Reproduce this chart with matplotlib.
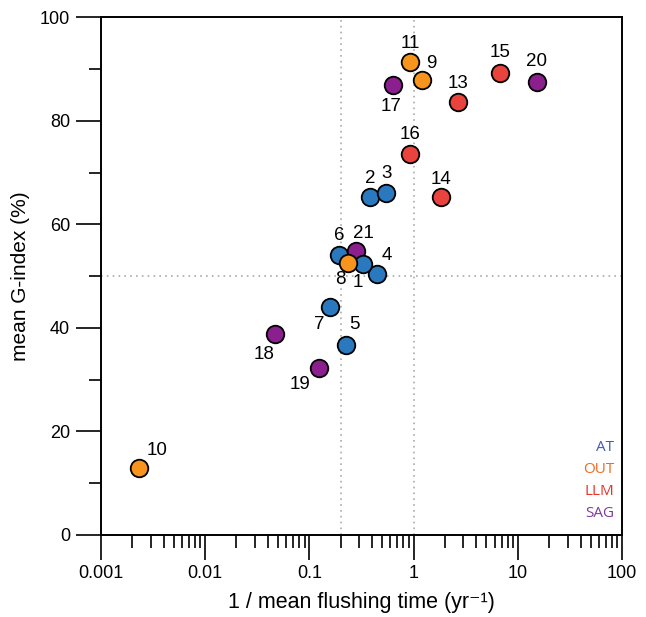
import matplotlib
matplotlib.use("Agg")
import matplotlib.pyplot as plt
from matplotlib.ticker import FixedLocator, FixedFormatter, NullFormatter

plt.rcParams["font.family"] = ["Liberation Sans", "DejaVu Sans"]

# =========================================================
# DATA
# =========================================================

# drawing order, so the cluster near 0.2-0.5 overlaps like the original
sites = ["10", "18", "19", "7", "5", "6", "21", "4", "1", "8",
         "2", "3", "14", "16", "17", "11", "9", "13", "15", "20"]
groups = ["OUT", "SAG", "SAG", "AT", "AT", "AT", "SAG", "AT", "AT", "OUT",
          "AT", "AT", "LLM", "LLM", "SAG", "OUT", "OUT", "LLM", "LLM", "SAG"]
flush_rate = [0.00232, 0.0465, 0.124, 0.157, 0.224, 0.192, 0.278, 0.449, 0.325, 0.236,
              0.382, 0.547, 1.85, 0.93, 0.638, 0.925, 1.21, 2.65, 6.79, 15.2]
g_index = [12.9, 38.9, 32.2, 44.0, 36.7, 54.0, 54.9, 50.5, 52.3, 52.6,
           65.2, 66.0, 65.2, 73.5, 87.0, 91.4, 87.8, 83.7, 89.3, 87.5]

# label offsets in pixels (dx, dy)
label_dx = [18, -11, -19, -10, 9, 0, 8, 10, -5, -8,
            0, 0, 0, 0, -2, 0, 9, 0, 0, 0]
label_dy = [18, -21, -16, -17, 20, 20, 17, 18, -18, -17,
            19, 20, 18, 20, -22, 18, 17, 18, 20, 20]

group_names = ["AT", "OUT", "LLM", "SAG"]
marker_colors = {"AT": "#2a78bd", "OUT": "#f7941d", "LLM": "#e8433c", "SAG": "#8a1f8d"}
legend_colors = {"AT": "#3f5fad", "OUT": "#f26a22", "LLM": "#e8332a", "SAG": "#7d3b9b"}

x_ticks = [0.001, 0.01, 0.1, 1, 10, 100]
x_tick_labels = ["0.001", "0.01", "0.1", "1", "10", "100"]
y_ticks = [0, 20, 40, 60, 80, 100]

# =========================================================
# PLOT
# =========================================================

fig = plt.figure(figsize=(6.46, 6.17), dpi=100)
ax = fig.add_axes([0.156, 0.133, 0.807, 0.839])

ax.set_xscale("log")
ax.set_xlim(0.001, 100)
ax.set_ylim(0, 100)

# reference lines
ax.axvline(0.2, color="#aaaaaa", lw=1.2, ls=(0, (1, 2.5)), zorder=1)
ax.axvline(1, color="#aaaaaa", lw=1.2, ls=(0, (1, 2.5)), zorder=1)
ax.axhline(50, color="#aaaaaa", lw=1.2, ls=(0, (1, 2.5)), zorder=1)

for i in range(len(sites)):
    ax.scatter(flush_rate[i], g_index[i], s=160,
               color=marker_colors[groups[i]], edgecolor="black",
               linewidth=1.3, zorder=3 + i * 0.01, clip_on=False)
    ax.annotate(sites[i], (flush_rate[i], g_index[i]),
                xytext=(label_dx[i], label_dy[i]), textcoords="offset pixels",
                ha="center", va="center", fontsize=13.5, zorder=5)

# colored group "legend"
for k, name in enumerate(group_names):
    ax.text(0.985, 0.168 - k * 0.042, name, transform=ax.transAxes,
            ha="right", va="center", fontsize=11,
            family=["Open Sans", "DejaVu Sans"], color=legend_colors[name])

# axes styling
ax.xaxis.set_major_locator(FixedLocator(x_ticks))
ax.xaxis.set_major_formatter(FixedFormatter(x_tick_labels))
minor = [m * 10.0 ** e for e in range(-3, 2) for m in range(2, 10)]
ax.xaxis.set_minor_locator(FixedLocator(minor))
ax.xaxis.set_minor_formatter(NullFormatter())

ax.yaxis.set_major_locator(FixedLocator(y_ticks))
ax.yaxis.set_minor_locator(FixedLocator([10, 30, 50, 70, 90]))

ax.tick_params(which="major", direction="out", length=18, width=1.2,
               labelsize=13, pad=4)
ax.tick_params(which="minor", direction="out", length=9, width=1.2)
ax.tick_params(top=False, right=False, which="both")

for sp in ax.spines.values():
    sp.set_linewidth(1.4)

ax.set_xlabel("1 / mean flushing time (yr\u207b\u00b9)", fontsize=15.5, labelpad=7)
ax.set_ylabel("mean G-index (%)", fontsize=15, labelpad=7)

fig.savefig("out.png", dpi=100)
